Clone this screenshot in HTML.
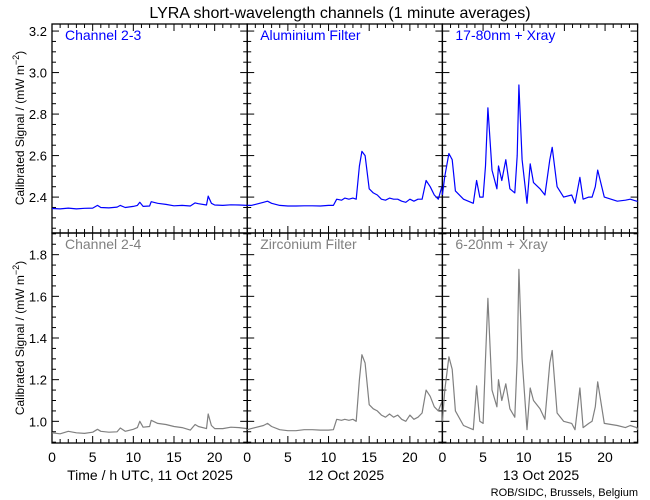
<!DOCTYPE html>
<html><head><meta charset="utf-8"><style>
html,body{margin:0;padding:0;background:#fff;}
svg{display:block;font-family:"Liberation Sans",sans-serif;}
</style></head><body>
<svg id="chart" width="650" height="500" viewBox="0 0 650 500" xmlns="http://www.w3.org/2000/svg">
<text x="340" y="18" font-size="16" text-anchor="middle" fill="#000">LYRA short-wavelength channels (1 minute averages)</text>
<text transform="translate(24,128) rotate(-90)" font-size="12" text-anchor="middle" fill="#000">Calibrated Signal / (mW m<tspan baseline-shift="super" font-size="9">−2</tspan>)</text>
<text transform="translate(24,338) rotate(-90)" font-size="12" text-anchor="middle" fill="#000">Calibrated Signal / (mW m<tspan baseline-shift="super" font-size="9">−2</tspan>)</text>
<text x="150" y="480" font-size="14" text-anchor="middle" fill="#000">Time / h UTC, 11 Oct 2025</text>
<text x="346" y="480" font-size="14" text-anchor="middle" fill="#000">12 Oct 2025</text>
<text x="541" y="480" font-size="14" text-anchor="middle" fill="#000">13 Oct 2025</text>
<text x="638" y="496" font-size="11" text-anchor="end" fill="#000">ROB/SIDC, Brussels, Belgium</text>
<g id="plots"></g>
</svg>
<script>
const panelLabels = ["Channel 2-3","Aluminium Filter","17-80nm + Xray","Channel 2-4","Zirconium Filter","6-20nm + Xray"];
const topTicks = [2.4,2.6,2.8,3.0,3.2];
const bottomTicks = [1.0,1.2,1.4,1.6,1.8];
const xTicks = [0,5,10,15,20];
const topDomain = [2.227,3.234];
const bottomDomain = [0.896,1.904];

const d1Hours = [0,1,2,3,4,5,5.6,6,7,8,8.4,9,10,10.5,10.8,11.2,12,12.2,13,14,15,16,17,17.6,18,19,19.2,19.6,20,21,22,23,24];
const d1Blue  = [2.345,2.343,2.347,2.343,2.346,2.347,2.36,2.35,2.348,2.352,2.36,2.35,2.355,2.36,2.375,2.355,2.357,2.378,2.37,2.365,2.358,2.36,2.357,2.372,2.368,2.362,2.405,2.37,2.362,2.36,2.363,2.362,2.36];
const d1Gray  = [0.945,0.94,0.952,0.945,0.942,0.948,0.962,0.952,0.948,0.95,0.968,0.952,0.962,0.97,1.0,0.972,0.975,1.005,0.99,0.985,0.975,0.97,0.958,0.985,0.975,0.965,1.035,0.98,0.965,0.965,0.972,0.97,0.965];

const d2Hours = [0,0.5,1,2,2.5,3,4,5,6,7,8,9,10,10.6,11,11.6,12,12.5,13,13.4,13.8,14.1,14.5,15,15.5,16,16.5,17,17.5,18,18.5,19,19.5,20,20.5,21,21.5,22,22.5,23,23.5,24];
const d2Blue  = [2.36,2.36,2.365,2.375,2.38,2.37,2.36,2.357,2.357,2.358,2.358,2.357,2.36,2.36,2.39,2.385,2.395,2.39,2.395,2.39,2.55,2.62,2.6,2.44,2.42,2.41,2.39,2.385,2.395,2.39,2.39,2.38,2.375,2.39,2.38,2.39,2.39,2.48,2.45,2.41,2.39,2.46];
const d2Gray  = [0.96,0.965,0.97,0.98,0.99,0.975,0.96,0.955,0.955,0.96,0.96,0.958,0.958,0.96,1.01,1.005,1.01,1.005,1.01,1.0,1.2,1.32,1.28,1.08,1.06,1.05,1.03,1.02,1.035,1.02,1.03,1.01,1.0,1.03,1.01,1.02,1.04,1.15,1.12,1.07,1.05,1.1];

const d3Hours = [0,0.3,0.8,1.2,1.6,2.6,3.8,4.2,4.6,5.0,5.3,5.6,6.1,6.7,6.9,7.3,7.8,8.3,8.9,9.2,9.4,9.8,10.4,10.8,11.2,12.0,12.6,13.2,13.5,14.1,14.9,15.9,16.3,16.9,17.3,18.0,18.4,18.8,19.1,19.9,21.5,22.5,23.1,23.9,24];
const d3Blue  = [2.41,2.5,2.61,2.58,2.43,2.39,2.37,2.48,2.40,2.40,2.55,2.83,2.53,2.44,2.55,2.48,2.58,2.44,2.42,2.6,2.94,2.58,2.37,2.56,2.47,2.44,2.41,2.58,2.64,2.45,2.40,2.41,2.37,2.495,2.39,2.40,2.40,2.45,2.53,2.40,2.38,2.385,2.39,2.38,2.38];
const d3Gray  = [1.0,1.15,1.31,1.25,1.05,0.98,0.96,1.17,1.0,0.99,1.3,1.59,1.15,1.07,1.2,1.1,1.18,1.06,1.02,1.3,1.73,1.3,0.96,1.16,1.1,1.06,1.01,1.28,1.34,1.04,1.0,0.99,0.96,1.16,0.97,0.99,1.0,1.07,1.19,0.99,0.98,0.97,0.98,0.97,0.96];

const panels = [
 {hours:d1Hours, vals:d1Blue, dom:topDomain, ticks:topTicks, color:"#0000ff", label:panelLabels[0], col:0, row:0, name:"channel-2-3"},
 {hours:d2Hours, vals:d2Blue, dom:topDomain, ticks:topTicks, color:"#0000ff", label:panelLabels[1], col:1, row:0, name:"aluminium-filter"},
 {hours:d3Hours, vals:d3Blue, dom:topDomain, ticks:topTicks, color:"#0000ff", label:panelLabels[2], col:2, row:0, name:"17-80nm-xray"},
 {hours:d1Hours, vals:d1Gray, dom:bottomDomain, ticks:bottomTicks, color:"#808080", label:panelLabels[3], col:0, row:1, name:"channel-2-4"},
 {hours:d2Hours, vals:d2Gray, dom:bottomDomain, ticks:bottomTicks, color:"#808080", label:panelLabels[4], col:1, row:1, name:"zirconium-filter"},
 {hours:d3Hours, vals:d3Gray, dom:bottomDomain, ticks:bottomTicks, color:"#808080", label:panelLabels[5], col:2, row:1, name:"6-20nm-xray"}
];

const NS = "http://www.w3.org/2000/svg";
const root = document.getElementById("plots");
const X0 = 52, PW = 195.2, rowsY = [[24,233],[233,443]];
function mk(tag, attrs, parent){
  const e = document.createElementNS(NS, tag);
  for (const k in attrs) e.setAttribute(k, attrs[k]);
  (parent||root).appendChild(e);
  return e;
}
panels.forEach(p => {
  const left = X0 + p.col*PW, right = left + PW;
  const top = rowsY[p.row][0], bot = rowsY[p.row][1];
  const xs = h => left + h/24*PW;
  const ys = v => bot - (v - p.dom[0])/(p.dom[1]-p.dom[0])*(bot-top);
  const g = mk("g", {});
  
  
  const frame = mk("rect", {x:left, y:top, width:PW, height:bot-top, fill:"none", stroke:"#000", "stroke-width":1.3}, g);
  
  
  // x ticks (minor every hour, major every 5 h), on bottom and top
  for (let h=0; h<=24; h++){
    const len = h%5===0 ? 7 : 4;
    const x = xs(h);
    mk("line",{x1:x,x2:x,y1:bot,y2:bot-len,stroke:"#000","stroke-width":1},g);
    mk("line",{x1:x,x2:x,y1:top,y2:top+len,stroke:"#000","stroke-width":1},g);
  }
  // y ticks (minor every 0.05, major every 0.2), left and right
  for (let v=Math.ceil(p.dom[0]/0.05)*0.05; v<=p.dom[1]+1e-9; v+=0.05){
    const r = Math.round(v*100);
    const major = r%20===0;
    const len = major ? 7 : 4;
    const y = ys(v);
    mk("line",{x1:left,x2:left+len,y1:y,y2:y,stroke:"#000","stroke-width":1},g);
    mk("line",{x1:right,x2:right-len,y1:y,y2:y,stroke:"#000","stroke-width":1},g);
  }
  if (p.col===0){
    p.ticks.forEach(t=>{
      const tl = mk("text",{x:47,y:ys(t)+5,"font-size":13,"text-anchor":"end",fill:"#000"},g);
      tl.textContent = t.toFixed(1);
      
      
    });
  }
  if (p.row===1){
    xTicks.forEach(t=>{
      const tl = mk("text",{x:xs(t),y:462,"font-size":14,"text-anchor":"middle",fill:"#000"},g);
      tl.textContent = String(t);
      
      
    });
  }
  const lab = mk("text",{x:left+13,y:top+16,"font-size":14,fill:p.color},g);
  lab.textContent = p.label;
  
  
  const pts = p.hours.map((h,i)=>xs(h).toFixed(1)+","+ys(p.vals[i]).toFixed(1)).join(" ");
  const line = mk("polyline",{points:pts,fill:"none",stroke:p.color,"stroke-width":1.2,"stroke-linejoin":"round"},g);
  
  
});
</script>
</body></html>
